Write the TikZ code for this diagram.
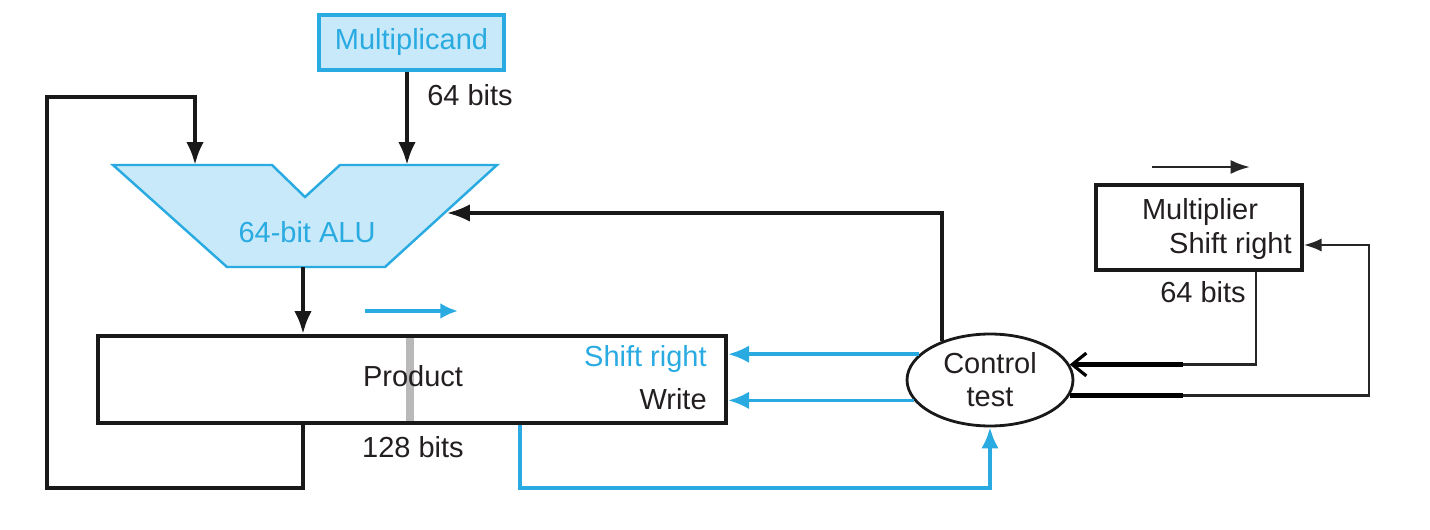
\documentclass[tikz,border=0pt]{standalone}
\usepackage{fontspec}
\setmainfont{Liberation Sans}
\usetikzlibrary{arrows.meta,shapes.geometric}
\definecolor{cy}{HTML}{29ABE2}
\definecolor{lb}{HTML}{C8E9F9}
\definecolor{tx}{HTML}{231F20}
\begin{document}
\begin{tikzpicture}[x=0.02cm,y=-0.02cm,
  every node/.style={font=\fontsize{16.5}{19}\selectfont, text=tx, inner sep=0pt},
  blk/.style={draw=black!90, line width=2.3pt, line join=miter},
  bl/.style={draw=cy, line width=2.1pt, line join=miter},
  thinl/.style={draw=black!85, line width=1.2pt, line join=miter},
  bigtip/.style={-{Latex[length=13pt,width=10pt]}},
  bluetip/.style={-{Latex[length=12pt,width=10pt]}},
  smalltip/.style={-{Latex[length=10pt,width=7.5pt]}},
  regbox/.style={draw=black!90, line width=2.3pt}]
\useasboundingbox (0,0) rectangle (1430,530);

% ALU shape
\draw[cy, fill=lb, line width=1.4pt, line join=miter] (113,165) -- (272,165) -- (305,197) -- (340,165) -- (497,165) -- (385,267) -- (227,267) -- cycle;
\node[text=cy] (alu) at (307,232) {64-bit ALU};
\coordinate (ain1) at (195,165);
\coordinate (ain2) at (407,165);
\coordinate (aout) at (303,267);
\coordinate (aright) at (447,213);

% Multiplicand
\node[draw=cy, fill=lb, line width=2.3pt, minimum width=3.7cm, minimum height=1.1cm, text=cy] (mc) at (411.5,42.5) {Multiplicand};
\node[anchor=west] (mcbits) at (427,95) {64 bits};

% Product register
\fill[gray!55] (406,337) rectangle (414,423);
\node[regbox, minimum width=12.56cm, minimum height=1.74cm] (prod) at (412,379.5) {};
\node (ptxt) at (413,376) {Product};
\node[anchor=east, text=cy] (psr) at (707,359) {Shift right};
\node[anchor=east] (pw) at (707,399) {Write};
\node (pbits) at (413,447) {128 bits};

% Control
\node[ellipse, draw=black!90, line width=1.6pt, fill=white, minimum width=3.32cm, minimum height=1.84cm, align=center, inner sep=0pt, font=\fontsize{16.5}{18.7}\selectfont] (ctl) at (990,380) {Control\\test};

% Multiplier register
\node[regbox, minimum width=4.12cm, minimum height=1.7cm] (mul) at (1199,227.5) {};
\node (multxt) at (1200,212) {Multiplier};
\node[anchor=east] (msr) at (1292,246) {Shift right};
\node (mbits) at (1203,292) {64 bits};

% coordinates
\coordinate (l1) at (47,488);
\coordinate (l2) at (195,97);
\coordinate (b1) at (520,488);
\coordinate (k) at (1183,0);
\coordinate (m1) at (1256,0);
\coordinate (r1) at (1369,245);
\coordinate (pa1) at (365,311);
\coordinate (pa2) at (458,311);
\coordinate (ma1) at (1152,167);
\coordinate (ma2) at (1250,167);

% connectors
\draw[blk, bigtip] (mc.south -| ain2) -- (ain2);
\draw[blk, bigtip] (prod.south -| aout) |- (l1) |- (l2) -- (ain1);
\draw[blk, bigtip] (aout) -- (prod.north -| aout);
\draw[blk, line width=1.9pt, bigtip] (ctl.141) -- (ctl.141 |- aright) -- (aright);
\draw[bl, bluetip] (ctl.160) -- (ctl.160 -| prod.east);
\draw[bl, bluetip] (ctl.195) -- (ctl.195 -| prod.east);
\draw[bl, bluetip] (prod.south -| b1) -- (b1) -| (ctl.south);
\draw[bl, line width=2.8pt, -{Latex[length=10pt,width=9pt]}] (pa1) -- (pa2);

\draw[thinl] (mul.south -| m1) |- (ctl.11 -| k);
\draw[line width=2.8pt, -{Straight Barb[length=8pt,width=13pt,line width=1.8pt]}] (ctl.11 -| k) -- (ctl.11);
\draw[line width=2.8pt] (ctl.-11) -- (ctl.-11 -| k);
\draw[thinl, smalltip] (ctl.-11 -| k) -| (r1) -- (mul.east |- r1);
\draw[thinl, line width=1.5pt, -{Latex[length=11pt,width=8pt]}] (ma1) -- (ma2);
\end{tikzpicture}
\end{document}
